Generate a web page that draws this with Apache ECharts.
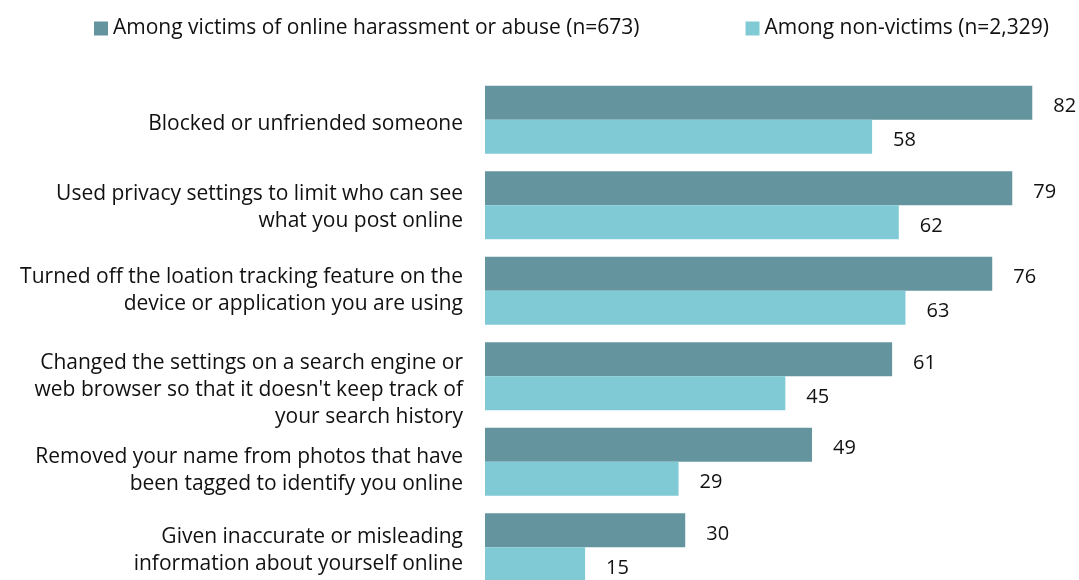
<!DOCTYPE html>
<html>
<head>
<meta charset="utf-8">
<script src="https://cdn.jsdelivr.net/npm/echarts@6/dist/echarts.min.js"></script>
<style>
  html, body { margin: 0; padding: 0; background: #fff; overflow: hidden; }
  #chart { width: 1079px; height: 590px; }
</style>
</head>
<body>
<div id="chart"></div>
<script>
const categories = [
  'Blocked or unfriended someone',
  'Used privacy settings to limit who can see\nwhat you post online',
  'Turned off the loation tracking feature on the\ndevice or application you are using',
  'Changed the settings on a search engine or\nweb browser so that it doesn\'t keep track of\nyour search history',
  'Removed your name from photos that have\nbeen tagged to identify you online',
  'Given inaccurate or misleading\ninformation about yourself online',
]
const victims = [82, 79, 76, 61, 49, 30]
const nonVictims = [58, 62, 63, 45, 29, 15]
const seriesNames = ['Among victims of online harassment or abuse (n=673)', 'Among non-victims (n=2,329)']

// labels in the original sit a little below their group's centre
const labelDrop = [8, 4, 0, 28, 18, 6]

const font = '"Open Sans", Lato, sans-serif'
const chart = echarts.init(document.getElementById('chart'))

const labelText = { color: '#111', fontFamily: font, fontSize: 21, lineHeight: 27, align: 'right' }
const rich = {}
labelDrop.forEach((d, i) => {
  rich['d' + i] = { ...labelText, padding: [d, 0, 0, 0] }
})

function barSeries(name, data, color) {
  return {
    name,
    type: 'bar',
    data,
    barWidth: 34,
    barGap: '0%',
    itemStyle: { color },
    label: {
      show: true,
      position: 'right',
      distance: 21,
      offset: [0, 4],
      color: '#111',
      fontFamily: font,
      fontSize: 20,
    },
  }
}

chart.setOption({
  animation: false,
  legend: {
    left: 89,
    top: 13,
    itemWidth: 14,
    itemHeight: 14,
    itemGap: 106,
    icon: 'rect',
    textStyle: { fontFamily: font, fontSize: 21, color: '#111' },
    data: seriesNames,
  },
  grid: { left: 485, top: 77, right: 0, bottom: 0, containLabel: false },
  xAxis: {
    type: 'value',
    min: 0,
    max: 89,
    show: false,
  },
  yAxis: {
    type: 'category',
    inverse: true,
    data: categories,
    axisLine: { show: false },
    axisTick: { show: false },
    axisLabel: {
      margin: 22,
      ...labelText,
      formatter: (value, i) => value.split('\n').map((l) => `{d${i}|${l}}`).join('\n'),
      rich,
    },
  },
  series: [
    barSeries(seriesNames[0], victims, '#64949e'),
    barSeries(seriesNames[1], nonVictims, '#80cad6'),
  ],
})
</script>
</body>
</html>
